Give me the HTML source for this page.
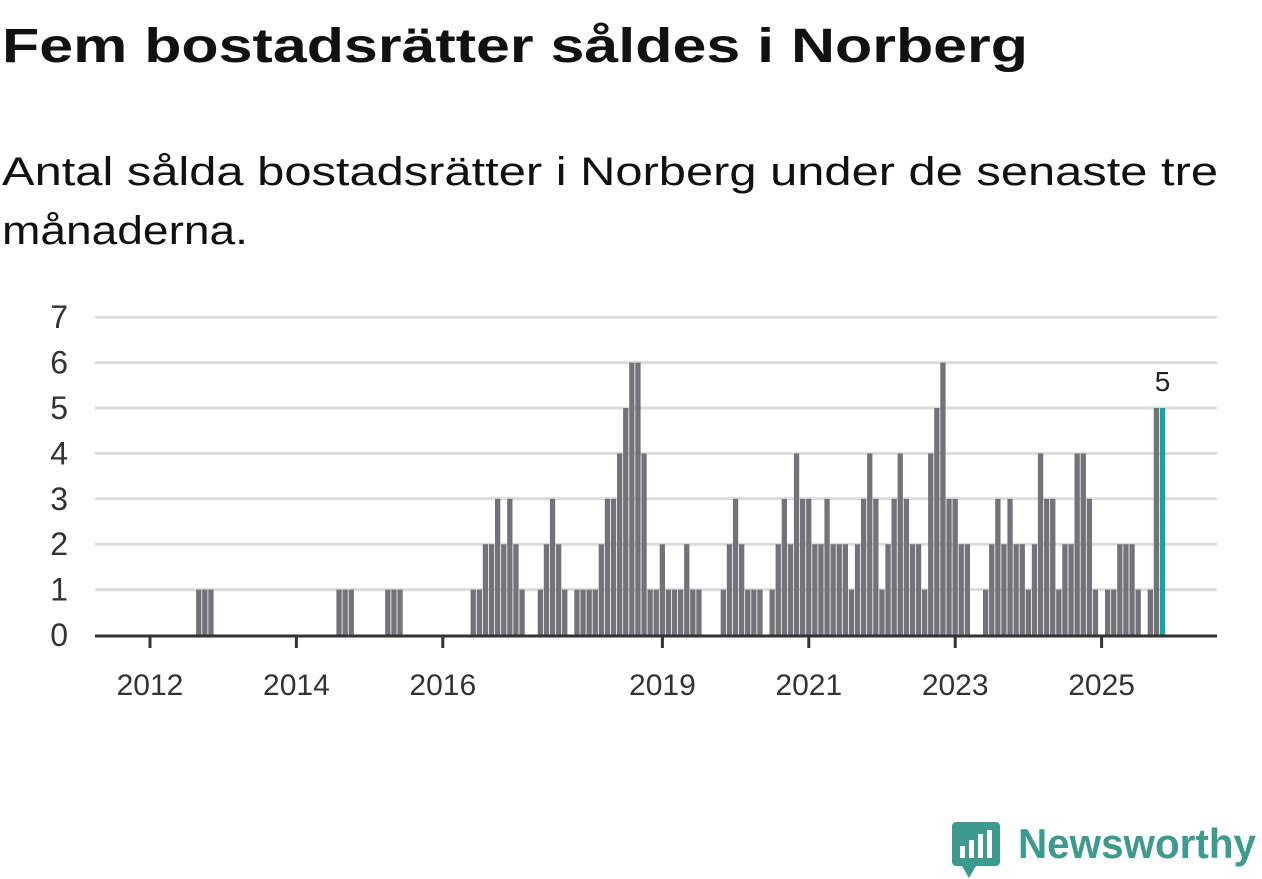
<!DOCTYPE html>
<html><head><meta charset="utf-8"><style>
html,body{margin:0;padding:0;background:#fff;width:1262px;height:879px;overflow:hidden}
svg{display:block;font-family:"Liberation Sans",sans-serif}
</style></head><body>
<svg id="c" width="1262" height="879" viewBox="0 0 1262 879">
<text x="2" y="62" font-size="48" font-weight="bold" fill="#111" textLength="1026" lengthAdjust="spacingAndGlyphs">Fem bostadsrätter såldes i Norberg</text>
<text x="2" y="185" font-size="40" fill="#111" textLength="1216" lengthAdjust="spacingAndGlyphs">Antal sålda bostadsrätter i Norberg under de senaste tre</text>
<text x="2" y="244" font-size="40" fill="#111" textLength="246" lengthAdjust="spacingAndGlyphs">månaderna.</text>
<g id="grid"></g><g id="bars"></g><g id="xaxis"></g>
<g>
<rect x="952" y="822" width="48" height="44" rx="4" fill="#3d9a8f"/>
<polygon points="962,866 976,866 969,878" fill="#3d9a8f"/>
<rect x="960" y="846" width="5" height="12" fill="#fff"/><rect x="969" y="840" width="5" height="18" fill="#fff"/><rect x="978" y="834" width="5" height="24" fill="#fff"/><rect x="987" y="830" width="5" height="28" fill="#fff"/>
<text x="1018" y="858" font-size="42" font-weight="bold" fill="#3d9a8f" textLength="238" lengthAdjust="spacingAndGlyphs">Newsworthy</text>
</g>
</svg>
<script>
const values = [0,0,0,0,0,0,0,0,1,1,1,0,0,0,0,0,0,0,0,0,0,0,0,0,0,0,0,0,0,0,0,1,1,1,0,0,0,0,0,1,1,1,0,0,0,0,0,0,0,0,0,0,0,1,1,2,2,3,2,3,2,1,0,0,1,2,3,2,1,0,1,1,1,1,2,3,3,4,5,6,6,4,1,1,2,1,1,1,2,1,1,0,0,0,1,2,3,2,1,1,1,0,1,2,3,2,4,3,3,2,2,3,2,2,2,1,2,3,4,3,1,2,3,4,3,2,2,1,4,5,6,3,3,2,2,0,0,1,2,3,2,3,2,2,1,2,4,3,3,1,2,2,4,4,3,1,0,1,1,2,2,2,1,0,1,5,5];
const yTicks = [0,1,2,3,4,5,6,7];
const xTickYears = [2012,2014,2016,2019,2021,2023,2025];
const startYear = 2012;
const NS='http://www.w3.org/2000/svg';
const x0=150, mw=6.1, y0=635, yu=45.4, left=95, right=1217;
const xs = m => x0 + m*mw;
const ys = v => y0 - v*yu;
function mk(t,a,p){const e=document.createElementNS(NS,t);for(const k in a)e.setAttribute(k,a[k]);p.appendChild(e);return e;}
const grid=document.getElementById('grid');
yTicks.forEach(v=>{
  if(v>0){const l=mk('line',{x1:left,x2:right,y1:ys(v),y2:ys(v),stroke:'#dcdcdc','stroke-width':3},grid);
  
  }
  const t=mk('text',{x:68,y:ys(v)+11,'font-size':32,fill:'#333','text-anchor':'end'},grid);
  t.textContent=v;
  
  
});
const bars=document.getElementById('bars');
const last=values.length-1;
values.forEach((v,m)=>{
  if(v<=0)return;
  const r=mk('rect',{x:xs(m)-2.7,y:ys(v),width:5.3,height:v*yu,fill:m===last?'#1aa39a':'#737278'},bars);
  
  
});
const lb=mk('text',{x:xs(last),y:ys(values[last])-17,'font-size':28,fill:'#222','text-anchor':'middle'},bars);
lb.textContent=values[last];


const xa=document.getElementById('xaxis');
const ax=mk('line',{x1:left,x2:right,y1:y0+1,y2:y0+1,stroke:'#333','stroke-width':3},xa);


xTickYears.forEach(yr=>{
  const x=xs((yr-startYear)*12);
  mk('line',{x1:x,x2:x,y1:y0,y2:y0+13,stroke:'#333','stroke-width':3},xa);
  const t=mk('text',{x:x,y:695,'font-size':30,fill:'#333','text-anchor':'middle'},xa);
  t.textContent=yr;
  
  
});
</script>
</body></html>
